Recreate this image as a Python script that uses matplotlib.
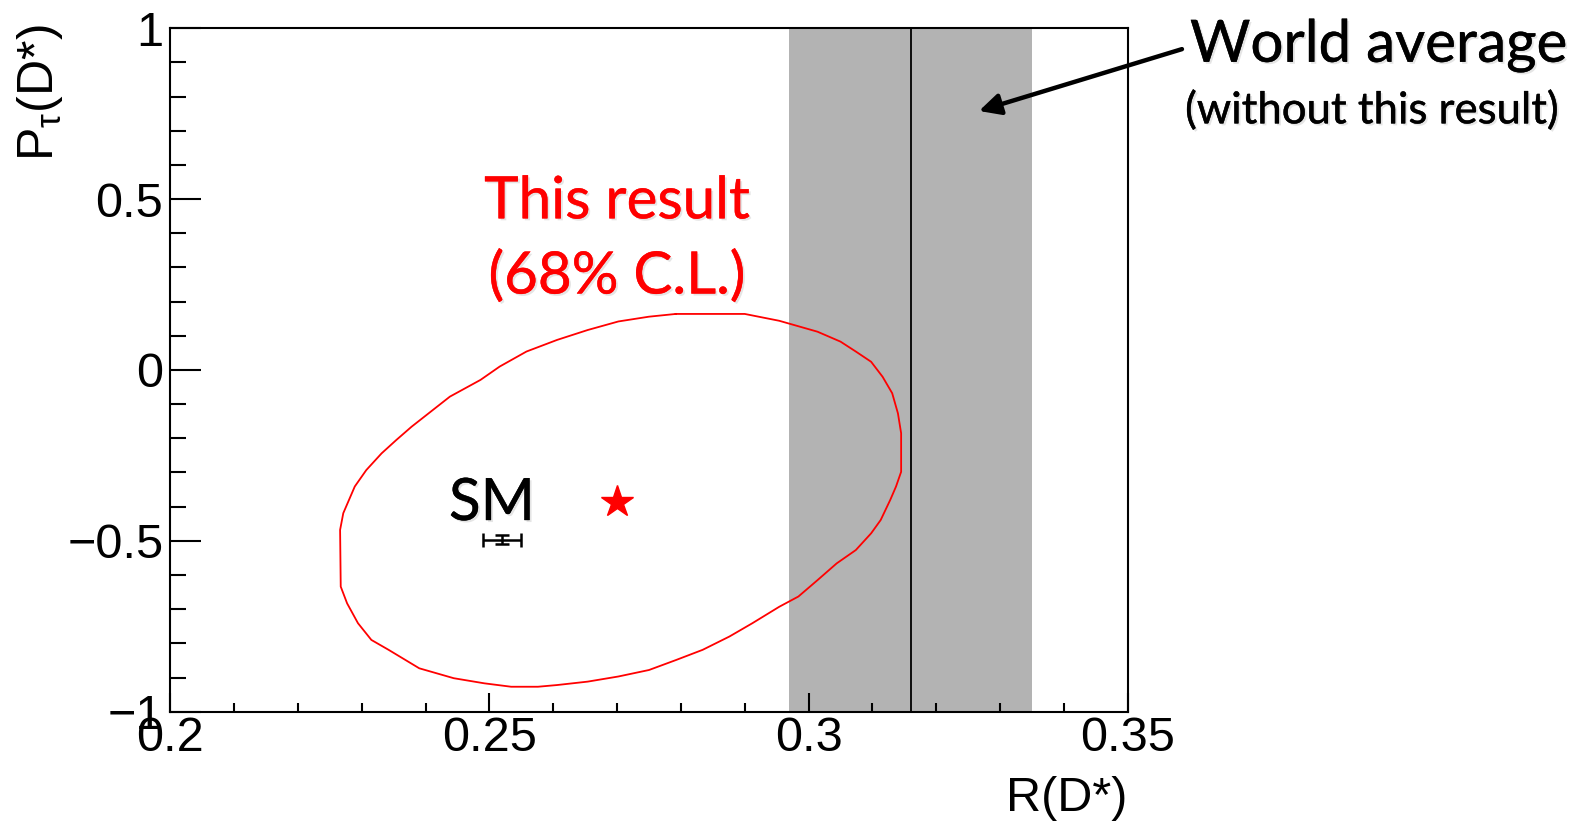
import matplotlib
matplotlib.use("Agg")
import matplotlib.pyplot as plt
import matplotlib.patheffects as pe
from matplotlib.ticker import MultipleLocator

plt.rcParams["font.family"] = ["Liberation Sans", "DejaVu Sans"]
plt.rcParams["mathtext.fontset"] = "custom"
plt.rcParams["mathtext.rm"] = "Liberation Sans"
plt.rcParams["mathtext.it"] = "Liberation Sans"

# 68% C.L. contour of this result (R(D*), P_tau(D*))
contour_r = [0.2792, 0.2900, 0.2954, 0.3014, 0.3050, 0.3074, 0.3098, 0.3116, 0.3131, 0.3140,
             0.3145, 0.3145, 0.3137, 0.3128, 0.3113, 0.3098, 0.3074, 0.3044, 0.3014, 0.2984,
             0.2954, 0.2912, 0.2876, 0.2834, 0.2792, 0.2750, 0.2702, 0.2654, 0.2606, 0.2576,
             0.2534, 0.2492, 0.2444, 0.2390, 0.2342, 0.2315, 0.2294, 0.2277, 0.2267, 0.2266,
             0.2271, 0.2289, 0.2307, 0.2331, 0.2354, 0.2378, 0.2408, 0.2438, 0.2486, 0.2516,
             0.2558, 0.2606, 0.2654, 0.2702, 0.2750, 0.2792]
contour_p = [0.164, 0.164, 0.144, 0.112, 0.083, 0.054, 0.024, -0.020, -0.068, -0.127,
             -0.185, -0.298, -0.341, -0.380, -0.439, -0.478, -0.527, -0.566, -0.615, -0.663,
             -0.693, -0.741, -0.780, -0.819, -0.849, -0.878, -0.897, -0.912, -0.922, -0.927,
             -0.927, -0.917, -0.902, -0.873, -0.819, -0.790, -0.741, -0.683, -0.634, -0.468,
             -0.419, -0.341, -0.293, -0.244, -0.205, -0.166, -0.122, -0.078, -0.029, 0.010,
             0.054, 0.088, 0.117, 0.142, 0.156, 0.164]

# best fit of this result
best_r = 0.270
best_p = -0.385

# Standard Model prediction
sm_r, sm_r_err = 0.252, 0.003
sm_p, sm_p_err = -0.497, 0.013

# world average of R(D*) without this result
wa_r, wa_err = 0.316, 0.019

x_ticks = [0.2, 0.25, 0.3, 0.35]
x_tick_labels = ["0.2", "0.25", "0.3", "0.35"]
y_ticks = [-1, -0.5, 0, 0.5, 1]
y_tick_labels = ["\u22121", "\u22120.5", "0", "0.5", "1"]

fig = plt.figure(figsize=(15.77, 8.22), dpi=100)
ax = fig.add_axes([0.1080, 0.1342, 0.6071, 0.8314])

ax.axvspan(wa_r - wa_err, wa_r + wa_err, color="#b3b3b3", lw=0, zorder=1)
ax.axvline(wa_r, color="black", lw=1.3, zorder=2)

ax.plot(contour_r, contour_p, color="#ff0000", lw=1.3, zorder=3)
ax.plot(best_r, best_p, marker="*", color="#ff0000", markersize=24, ls="none", zorder=4)
ax.errorbar(sm_r, sm_p, xerr=sm_r_err, yerr=sm_p_err, fmt="none", ecolor="black",
            elinewidth=1.8, capsize=5, capthick=1.8, zorder=4)

ax.set_xlim(0.2, 0.35)
ax.set_ylim(-1, 1)
ax.set_xticks(x_ticks, x_tick_labels)
ax.set_yticks(y_ticks, y_tick_labels)
ax.xaxis.set_minor_locator(MultipleLocator(0.01))
ax.yaxis.set_minor_locator(MultipleLocator(0.1))
ax.tick_params(axis="x", which="major", direction="in", length=13.7, width=1.5,
               labelsize=35, pad=3)
ax.tick_params(axis="x", which="minor", direction="in", length=6.5, width=1.5)
ax.tick_params(axis="y", which="major", direction="in", length=22, width=1.5,
               labelsize=35, pad=5)
ax.tick_params(axis="y", which="minor", direction="in", length=11.3, width=1.5)
for s in ax.spines.values():
    s.set_linewidth(1.5)

ax.text(1.0, -0.1453, "R(D*)", transform=ax.transAxes, ha="right", va="baseline",
        fontsize=35)
ax.text(-0.1361, 1.006, r"P$_{\tau}$(D*)", transform=ax.transAxes, ha="center",
        va="top", rotation=90, fontsize=36)

# annotations in PowerPoint style, a touch heavier and with a soft shadow
note_font = ["Lato", "DejaVu Sans"]


def note_fx(color):
    return [pe.SimplePatchShadow(offset=(1.5, -1.5), shadow_rgbFace="gray", alpha=0.2),
            pe.Stroke(linewidth=0.3, foreground=color), pe.Normal()]


ax.text(0.4666, 0.722, "This result", transform=ax.transAxes, ha="center",
        va="baseline", fontsize=42, color="#ff0000", family=note_font,
        path_effects=note_fx("#ff0000"))
ax.text(0.4666, 0.612, "(68% C.L.)", transform=ax.transAxes, ha="center",
        va="baseline", fontsize=42, color="#ff0000", family=note_font,
        path_effects=note_fx("#ff0000"))
ax.text(0.336, 0.2805, "SM", transform=ax.transAxes, ha="center", va="baseline",
        fontsize=42, color="black", family=note_font, path_effects=note_fx("black"))

fig.text(0.7546, 0.9249, "World average", ha="left", va="baseline", fontsize=42,
         family=note_font, path_effects=note_fx("black"))
fig.text(0.7515, 0.85, "(without this result)", ha="left", va="baseline", fontsize=31.5,
         family=note_font, path_effects=note_fx("black"))
ax.annotate("", xy=(0.3267, 0.758), xytext=(0.3585, 0.939), annotation_clip=False,
            arrowprops=dict(arrowstyle="-|>", lw=3.2, color="black", mutation_scale=32,
                            shrinkA=0, shrinkB=0))

fig.savefig("out.png", dpi=100)
